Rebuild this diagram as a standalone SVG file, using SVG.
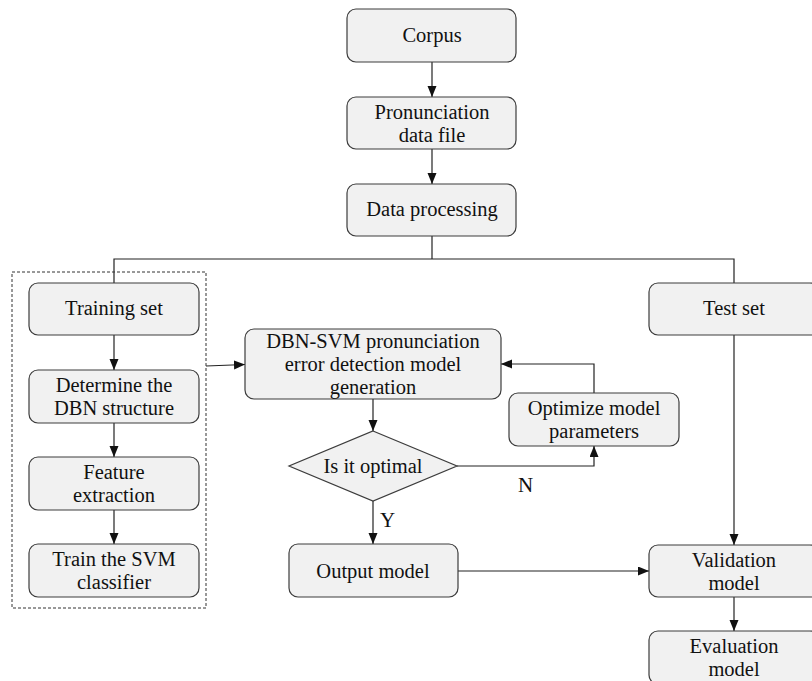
<svg xmlns="http://www.w3.org/2000/svg" width="812" height="681" viewBox="0 0 812 681">
<style>
.box{fill:#f1f1f1;stroke:#3c3c3c;stroke-width:1.2}
.t{font-family:"Liberation Serif","Times New Roman",serif;font-size:20.5px;fill:#111;text-anchor:middle}
.l{font-family:"Liberation Serif","Times New Roman",serif;font-size:21px;fill:#111}
.c{fill:none;stroke:#222;stroke-width:1.2}
.a{marker-end:url(#ah)}
</style>
<defs>
<marker id="ah" markerUnits="userSpaceOnUse" markerWidth="12" markerHeight="10" refX="11" refY="4.5" orient="auto">
<path d="M0,0 L11,4.5 L0,9 z" fill="#111"/>
</marker>
</defs>
<rect width="812" height="681" fill="#ffffff"/>
<g id="connectors">
<line class="c a" x1="432" y1="62" x2="432" y2="97"/>
<line class="c a" x1="432" y1="149" x2="432" y2="184"/>
<polyline class="c" points="432,236 432,259"/>
<polyline class="c" points="114,283 114,259 734,259 734,283"/>
<line class="c a" x1="114" y1="335" x2="114" y2="370"/>
<line class="c a" x1="114" y1="423" x2="114" y2="457"/>
<line class="c a" x1="114" y1="510" x2="114" y2="544"/>
<line class="c a" x1="206" y1="366" x2="245" y2="364.5"/>
<line class="c a" x1="373" y1="399" x2="373" y2="431"/>
<polyline class="c a" points="457,466 594,466 594,446"/>
<polyline class="c a" points="594,393 594,364 501,364"/>
<line class="c a" x1="373" y1="501" x2="373" y2="544"/>
<line class="c a" x1="458" y1="571" x2="649" y2="571"/>
<line class="c a" x1="734" y1="335" x2="734" y2="545"/>
<line class="c a" x1="734" y1="597" x2="734" y2="631"/>
<text class="l" x="380" y="527">Y</text>
<text class="l" x="518" y="492">N</text>
</g>
<g id="training-group">
<rect x="12" y="272" width="194" height="336" fill="none" stroke="#333" stroke-width="1" stroke-dasharray="3,2"/>
</g>
<g id="corpus">
<rect class="box" x="347" y="9" width="169" height="53" rx="9"/>
<text class="t" x="432" y="42">Corpus</text>
</g>
<g id="pronunciation">
<rect class="box" x="347" y="97" width="169" height="52" rx="9"/>
<text class="t" x="432" y="118.5">Pronunciation</text>
<text class="t" x="432" y="141.5">data file</text>
</g>
<g id="data-processing">
<rect class="box" x="347" y="184" width="169" height="52" rx="9"/>
<text class="t" x="432" y="216">Data processing</text>
</g>
<g id="training-set">
<rect class="box" x="29" y="283" width="170" height="52" rx="9"/>
<text class="t" x="114" y="315">Training set</text>
</g>
<g id="determine">
<rect class="box" x="29" y="370" width="170" height="53" rx="9"/>
<text class="t" x="114" y="392">Determine the</text>
<text class="t" x="114" y="415">DBN structure</text>
</g>
<g id="feature">
<rect class="box" x="29" y="457" width="170" height="53" rx="9"/>
<text class="t" x="114" y="479">Feature</text>
<text class="t" x="114" y="502">extraction</text>
</g>
<g id="train-svm">
<rect class="box" x="29" y="544" width="170" height="53" rx="9"/>
<text class="t" x="114" y="566">Train the SVM</text>
<text class="t" x="114" y="589">classifier</text>
</g>
<g id="dbn-svm">
<rect class="box" x="245" y="329" width="256" height="70" rx="9"/>
<text class="t" x="373" y="348">DBN-SVM pronunciation</text>
<text class="t" x="373" y="371">error detection model</text>
<text class="t" x="373" y="394">generation</text>
</g>
<g id="optimal">
<polygon class="box" points="373,431 457,466 373,501 289,466"/>
<text class="t" x="373" y="473">Is it optimal</text>
</g>
<g id="optimize">
<rect class="box" x="509" y="393" width="170" height="53" rx="9"/>
<text class="t" x="594" y="415">Optimize model</text>
<text class="t" x="594" y="438">parameters</text>
</g>
<g id="output">
<rect class="box" x="289" y="544" width="169" height="53" rx="9"/>
<text class="t" x="373" y="578">Output model</text>
</g>
<g id="test-set">
<rect class="box" x="649" y="283" width="170" height="52" rx="9"/>
<text class="t" x="734" y="315">Test set</text>
</g>
<g id="validation">
<rect class="box" x="649" y="545" width="170" height="52" rx="9"/>
<text class="t" x="734" y="567">Validation</text>
<text class="t" x="734" y="590">model</text>
</g>
<g id="evaluation">
<rect class="box" x="649" y="631" width="170" height="53" rx="9"/>
<text class="t" x="734" y="653">Evaluation</text>
<text class="t" x="734" y="676">model</text>
</g>
</svg>
